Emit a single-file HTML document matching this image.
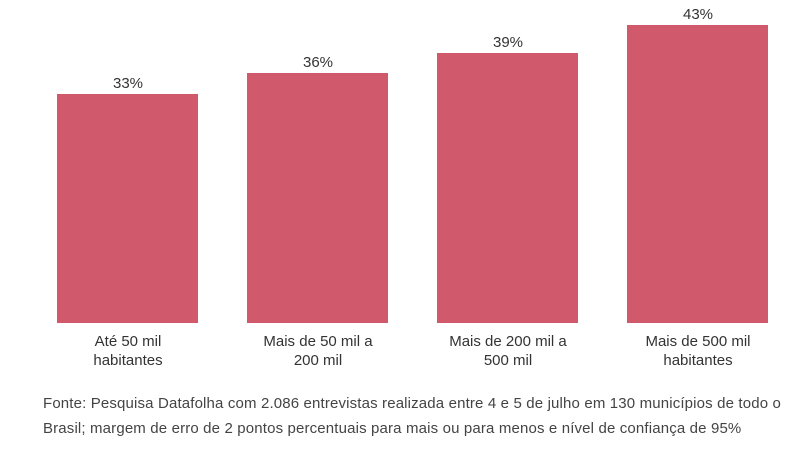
<!DOCTYPE html>
<html><head><meta charset="utf-8"><style>
body{margin:0;width:800px;height:465px;background:#fff;font-family:"Liberation Sans",sans-serif;color:#333;position:relative;overflow:hidden}
.b{position:absolute;background:#d05a6c;width:141px;bottom:142px}
.v,.c{position:absolute;width:190px;text-align:center;font-size:15px}
.c{line-height:19px;top:332px}
.f{position:absolute;left:43px;top:391px;font-size:15px;letter-spacing:0.15px;line-height:25px;color:#444;white-space:nowrap}
</style></head><body>
<div class="b" style="left:57px;top:94px"></div>
<div class="b" style="left:247px;top:73px"></div>
<div class="b" style="left:437px;top:53px"></div>
<div class="b" style="left:627px;top:25px"></div>
<div class="v" style="left:33px;top:75px">33%</div>
<div class="v" style="left:223px;top:54px">36%</div>
<div class="v" style="left:413px;top:34px">39%</div>
<div class="v" style="left:603px;top:6px">43%</div>
<div class="c" style="left:33px">Até 50 mil<br>habitantes</div>
<div class="c" style="left:223px">Mais de 50 mil a<br>200 mil</div>
<div class="c" style="left:413px">Mais de 200 mil a<br>500 mil</div>
<div class="c" style="left:603px">Mais de 500 mil<br>habitantes</div>
<div class="f">Fonte: Pesquisa Datafolha com 2.086 entrevistas realizada entre 4 e 5 de julho em 130 municípios de todo o<br>Brasil; margem de erro de 2 pontos percentuais para mais ou para menos e nível de confiança de 95%</div>
</body></html>
